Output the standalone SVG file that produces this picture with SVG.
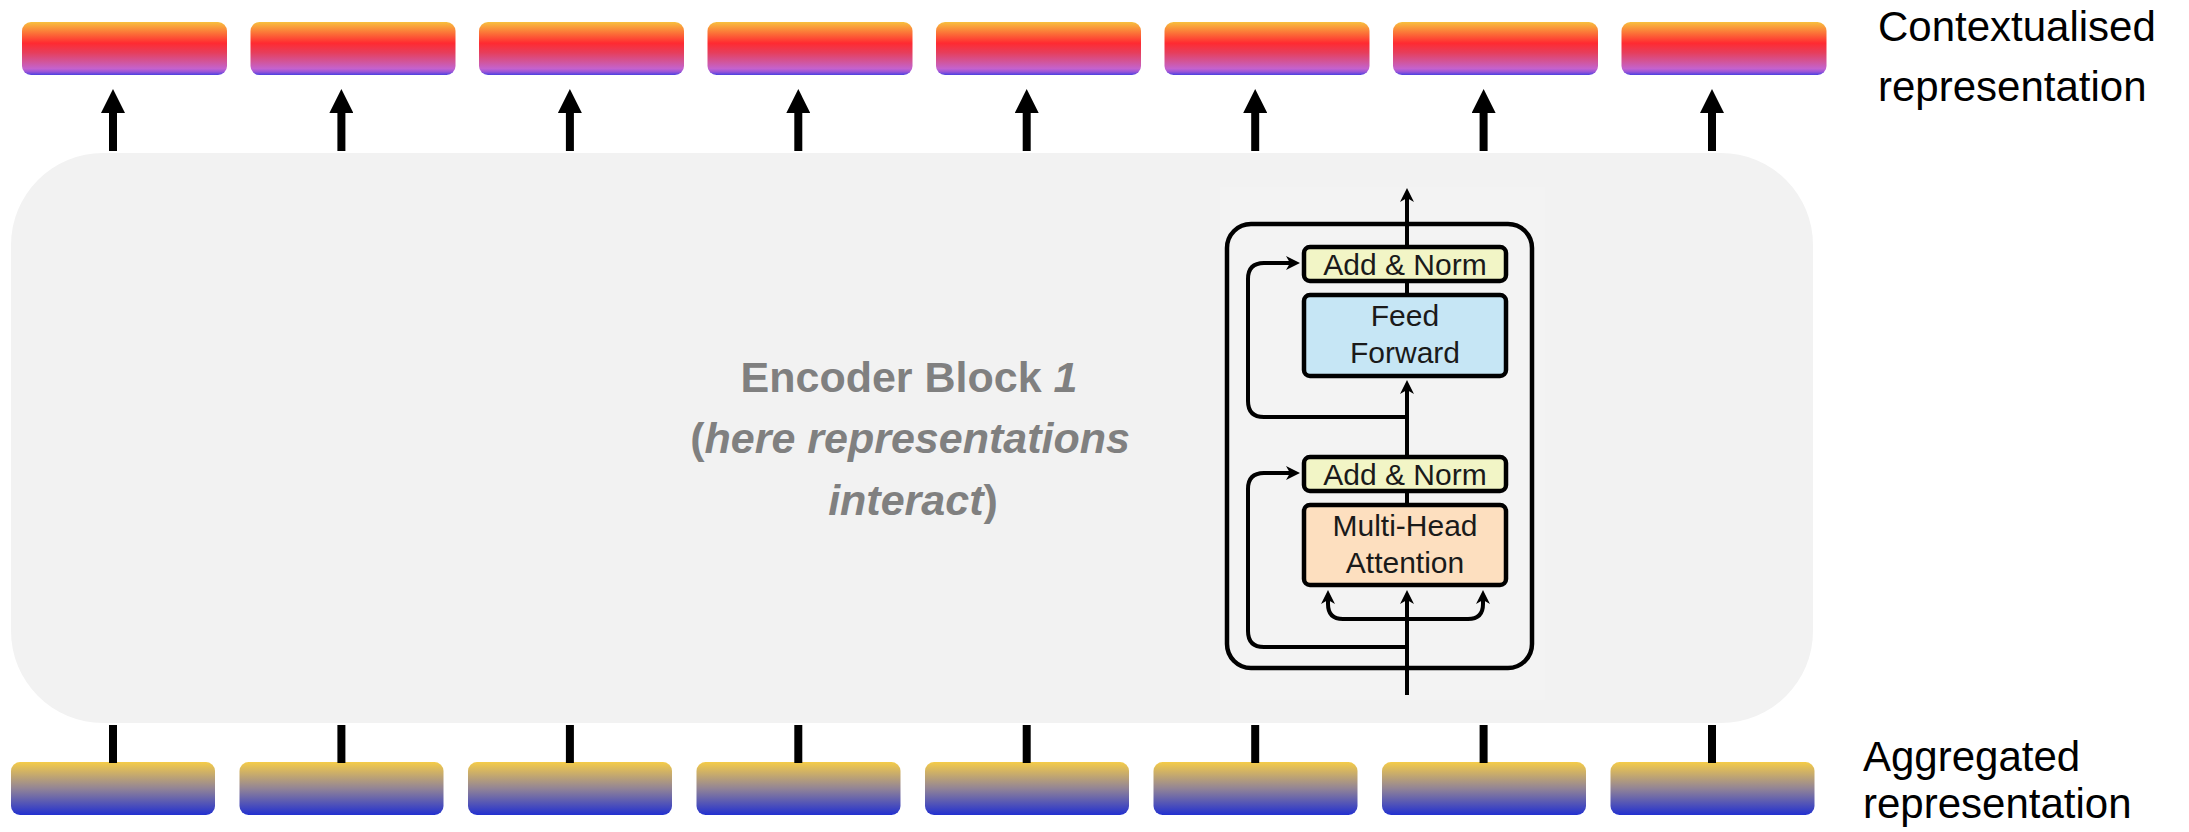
<svg xmlns="http://www.w3.org/2000/svg" width="2189" height="832" viewBox="0 0 2189 832">
  <style>
    .ctx { fill: url(#gradCtx); }
    .agg { fill: url(#gradAgg); }
    .label { font-family: "Liberation Sans", Arial, sans-serif; font-size: 42px; fill: #000; }
    .enc { font-family: "Liberation Sans", Arial, sans-serif; font-size: 43px; font-weight: bold; fill: #808080; }
    .big { stroke: #000; stroke-width: 8; fill: none; }
    .wire { stroke: #000; stroke-width: 4; fill: none; }
    .blk { stroke: #000; stroke-width: 4.5; }
    .blktxt { font-family: "Liberation Sans", Arial, sans-serif; font-size: 30px; fill: #1a1a1a; text-anchor: middle; }
  </style>
  <defs>
    <linearGradient id="gradCtx" x1="0" y1="0" x2="0" y2="1">
      <stop offset="0" stop-color="#F8C03E"/>
      <stop offset="0.14" stop-color="#FA8C3A"/>
      <stop offset="0.40" stop-color="#FF2A31"/>
      <stop offset="0.58" stop-color="#E63E5C"/>
      <stop offset="0.75" stop-color="#D2559A"/>
      <stop offset="0.88" stop-color="#C462CE"/>
      <stop offset="0.94" stop-color="#9A55D8"/>
      <stop offset="1" stop-color="#4A40E0"/>
    </linearGradient>
    <linearGradient id="gradAgg" x1="0" y1="0" x2="0" y2="1">
      <stop offset="0" stop-color="#F5CC48"/>
      <stop offset="0.5" stop-color="#928496"/>
      <stop offset="1" stop-color="#2230D0"/>
    </linearGradient>
    <marker id="bigHead" viewBox="0 0 24 24" markerUnits="userSpaceOnUse" markerWidth="24" markerHeight="24" refX="0" refY="12" orient="auto">
      <path d="M0,0 L24,12 L0,24 z" fill="#000"/>
    </marker>
    <marker id="head" viewBox="0 0 14 14" markerUnits="userSpaceOnUse" markerWidth="14" markerHeight="14" refX="4" refY="7" orient="auto">
      <path d="M0,0 L14,7 L0,14 L4,7 z" fill="#000"/>
    </marker>
  </defs>

  <rect width="2189" height="832" fill="#fff"/>

  <!-- encoder block background -->
  <g id="encoder-block">
    <rect x="11" y="153" width="1802" height="570" rx="92" ry="92" fill="#F2F2F2"/>
    <text class="enc" text-anchor="middle">
      <tspan x="915" y="392">Encoder Block <tspan font-style="italic">1</tspan></tspan>
      <tspan x="916" y="453">(<tspan font-style="italic">here representations</tspan></tspan>
      <tspan x="913" y="515"><tspan font-style="italic">interact</tspan>)</tspan>
    </text>
  </g>

  <!-- transformer encoder layer inset -->
  <g id="encoder-layer">
    <rect x="1220" y="187" width="325" height="513" fill="#F3F3F3"/>
    <rect x="1227" y="224" width="305" height="444" rx="24" ry="24" class="blk" fill="none"/>
    <g class="wire">
      <path d="M1407,695 V600" marker-end="url(#head)"/>
      <path d="M1407,505 V491"/>
      <path d="M1407,457 V390" marker-end="url(#head)"/>
      <path d="M1407,295 V281"/>
      <path d="M1407,247 V198" marker-end="url(#head)"/>
      <path d="M1407,417 H1264 Q1248,417 1248,401 V279 Q1248,263 1264,263 H1290" marker-end="url(#head)"/>
      <path d="M1407,647 H1264 Q1248,647 1248,631 V489 Q1248,473 1264,473 H1290" marker-end="url(#head)"/>
      <path d="M1407,619 H1343 Q1328,619 1328,604 V600" marker-end="url(#head)"/>
      <path d="M1407,619 H1468 Q1483,619 1483,604 V600" marker-end="url(#head)"/>
    </g>
    <g id="add-norm-2">
      <rect x="1304" y="247" width="202" height="34" rx="6" class="blk" fill="#F2F5C6"/>
      <text class="blktxt" x="1405" y="275">Add &amp; Norm</text>
    </g>
    <g id="feed-forward">
      <rect x="1304" y="295" width="202" height="81" rx="6" class="blk" fill="#C6E6F5"/>
      <text class="blktxt" x="1405" y="326">Feed</text>
      <text class="blktxt" x="1405" y="363">Forward</text>
    </g>
    <g id="add-norm-1">
      <rect x="1304" y="457" width="202" height="34" rx="6" class="blk" fill="#F2F5C6"/>
      <text class="blktxt" x="1405" y="485">Add &amp; Norm</text>
    </g>
    <g id="multi-head-attention">
      <rect x="1304" y="505" width="202" height="80" rx="6" class="blk" fill="#FDDFBF"/>
      <text class="blktxt" x="1405" y="536">Multi-Head</text>
      <text class="blktxt" x="1405" y="573">Attention</text>
    </g>
  </g>

  <!-- contextualised outputs -->
  <g id="ctx-1"><rect class="ctx" x="22" y="22" width="205" height="53" rx="9"/></g>
  <g id="ctx-2"><rect class="ctx" x="250.5" y="22" width="205" height="53" rx="9"/></g>
  <g id="ctx-3"><rect class="ctx" x="479" y="22" width="205" height="53" rx="9"/></g>
  <g id="ctx-4"><rect class="ctx" x="707.5" y="22" width="205" height="53" rx="9"/></g>
  <g id="ctx-5"><rect class="ctx" x="936" y="22" width="205" height="53" rx="9"/></g>
  <g id="ctx-6"><rect class="ctx" x="1164.5" y="22" width="205" height="53" rx="9"/></g>
  <g id="ctx-7"><rect class="ctx" x="1393" y="22" width="205" height="53" rx="9"/></g>
  <g id="ctx-8"><rect class="ctx" x="1621.5" y="22" width="205" height="53" rx="9"/></g>

  <!-- aggregated inputs -->
  <g id="agg-1"><rect class="agg" x="11" y="762" width="204" height="53" rx="9"/></g>
  <g id="agg-2"><rect class="agg" x="239.5" y="762" width="204" height="53" rx="9"/></g>
  <g id="agg-3"><rect class="agg" x="468" y="762" width="204" height="53" rx="9"/></g>
  <g id="agg-4"><rect class="agg" x="696.5" y="762" width="204" height="53" rx="9"/></g>
  <g id="agg-5"><rect class="agg" x="925" y="762" width="204" height="53" rx="9"/></g>
  <g id="agg-6"><rect class="agg" x="1153.5" y="762" width="204" height="53" rx="9"/></g>
  <g id="agg-7"><rect class="agg" x="1382" y="762" width="204" height="53" rx="9"/></g>
  <g id="agg-8"><rect class="agg" x="1610.5" y="762" width="204" height="53" rx="9"/></g>

  <!-- connectors -->
  <g id="connectors" class="big">
    <path d="M113,151 V113" marker-end="url(#bigHead)"/>
    <path d="M341.4,151 V113" marker-end="url(#bigHead)"/>
    <path d="M569.9,151 V113" marker-end="url(#bigHead)"/>
    <path d="M798.3,151 V113" marker-end="url(#bigHead)"/>
    <path d="M1026.7,151 V113" marker-end="url(#bigHead)"/>
    <path d="M1255.2,151 V113" marker-end="url(#bigHead)"/>
    <path d="M1483.6,151 V113" marker-end="url(#bigHead)"/>
    <path d="M1712,151 V113" marker-end="url(#bigHead)"/>
    <path d="M113,725 V763"/>
    <path d="M341.4,725 V763"/>
    <path d="M569.9,725 V763"/>
    <path d="M798.3,725 V763"/>
    <path d="M1026.7,725 V763"/>
    <path d="M1255.2,725 V763"/>
    <path d="M1483.6,725 V763"/>
    <path d="M1712,725 V763"/>
  </g>

  <!-- side labels -->
  <g id="label-ctx">
    <text class="label" x="1878" y="41">Contextualised</text>
    <text class="label" x="1878" y="101">representation</text>
  </g>
  <g id="label-agg">
    <text class="label" x="1863" y="771">Aggregated</text>
    <text class="label" x="1863" y="818">representation</text>
  </g>
</svg>
